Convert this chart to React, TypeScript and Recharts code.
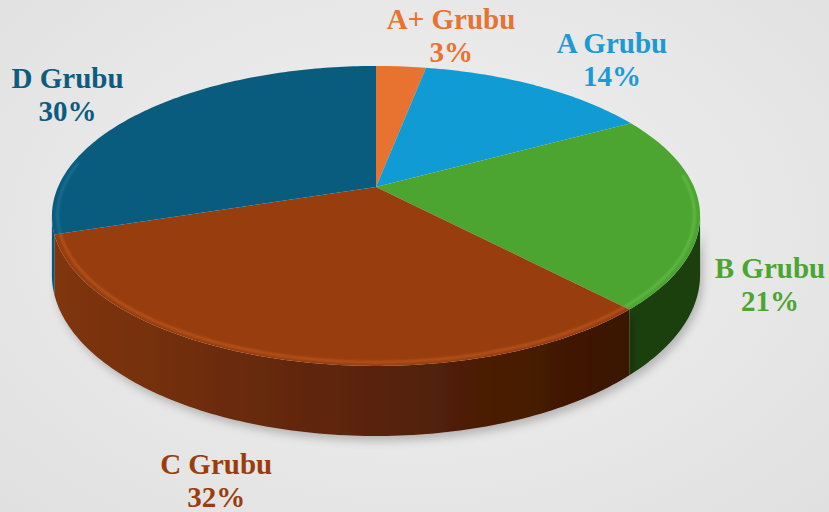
import { PieChart, Pie } from 'recharts';

const groups = ['A+ Grubu', 'A Grubu', 'B Grubu', 'C Grubu', 'D Grubu'];
const shares = [3, 14, 21, 32, 30];

const TOP_COLORS = ['#e87230', '#109bd4', '#4ba530', '#983d0e', '#0a5c7e'];
const TEXT_COLORS = ['#e87230', '#1a9bd6', '#4ba530', '#9a3d0e', '#0b5c80'];
const WALL_LEFT = ['#b0531f', '#0b6f9a', '#25521a', '#80350f', '#0a5476'];
const WALL_RIGHT = ['#8a3f16', '#085878', '#1c3f10', '#391503', '#094c6a'];
const BEVEL = ['#ff9a5a', '#5cc4f0', '#7ccd5a', '#d8692e', '#2a84aa'];
// label nudges (px) relative to the projected point just outside the rim
const LABEL_NUDGE = [
  [44, -8],
  [34, -8],
  [-31, 60],
  [-24, 47],
  [-17, -3],
];

const data = groups.map((name, i) => ({ name, value: shares[i] }));

// fake 3d: tilt, perspective and thickness as fractions of the radius
const TILT = 0.454;
const PERSP = 0.193;
const DEPTH = 0.178;
const FRONT_LO = -180 + (Math.asin(PERSP) * 180) / Math.PI;
const FRONT_HI = -(Math.asin(PERSP) * 180) / Math.PI;

const FONT = 'Liberation Serif, Times New Roman, serif';

function project(cx: number, cy: number, R: number, deg: number, r: number, drop: number) {
  const rad = (deg * Math.PI) / 180;
  const X = r * Math.cos(rad);
  const Z = r * Math.sin(rad);
  const den = 1 + PERSP * Z;
  return [cx + (R * X) / den, cy - (R * TILT * Z) / den + (R * DEPTH * drop) / den];
}

function arc(cx: number, cy: number, R: number, a0: number, a1: number, r: number, drop: number) {
  const n = Math.max(2, Math.ceil(Math.abs(a1 - a0)));
  const pts: number[][] = [];
  for (let i = 0; i <= n; i++) pts.push(project(cx, cy, R, a0 + ((a1 - a0) * i) / n, r, drop));
  return pts;
}

const toPath = (pts: number[][]) => pts.map((p, i) => `${i ? 'L' : 'M'}${p[0].toFixed(2)},${p[1].toFixed(2)}`).join(' ');

function Slice3D(props: any) {
  const { cx, cy, outerRadius: R, startAngle, endAngle, index } = props;
  const top = [[cx, cy], ...arc(cx, cy, R, startAngle, endAngle, 1, 0)];
  const lo = Math.max(Math.min(startAngle, endAngle), FRONT_LO);
  const hi = Math.min(Math.max(startAngle, endAngle), FRONT_HI);
  let wall = null;
  let bevel = null;
  if (hi > lo) {
    const upper = arc(cx, cy, R, lo, hi, 1, 0);
    const lower = arc(cx, cy, R, hi, lo, 1, 1);
    wall = (
      <path
        d={toPath([...upper, ...lower]) + ' Z'}
        fill={`url(#wall${index})`}
        filter={`url(#shadow${index})`}
      />
    );
  }
  // bevel highlight only on the lower (front) half of the rim
  const blo = Math.max(Math.min(startAngle, endAngle), -190);
  const bhi = Math.min(Math.max(startAngle, endAngle), 5);
  if (bhi > blo) {
    bevel = (
      <path
        d={toPath(arc(cx, cy, R, blo, bhi, 0.983, 0))}
        fill="none"
        stroke={BEVEL[index]}
        strokeWidth={2.5}
        strokeOpacity={0.5}
        filter={`url(#blur${index})`}
      />
    );
  }
  return (
    <g>
      <defs>
        <linearGradient id={`wall${index}`} gradientUnits="userSpaceOnUse" x1={cx - R} y1={0} x2={cx + R * 0.8} y2={0}>
          <stop offset="0%" stopColor={WALL_LEFT[index]} />
          <stop offset="100%" stopColor={WALL_RIGHT[index]} />
        </linearGradient>
        <filter id={`shadow${index}`} x="-20%" y="-20%" width="140%" height="160%">
          <feDropShadow dx="3" dy="5" stdDeviation="4" floodColor="#000" floodOpacity="0.22" />
        </filter>
        <filter id={`blur${index}`}>
          <feGaussianBlur stdDeviation="1.3" />
        </filter>
      </defs>
      {wall}
      <path d={toPath(top) + ' Z'} fill={TOP_COLORS[index]} />
      {bevel}
    </g>
  );
}

function renderLabel(props: any) {
  const { cx, cy, outerRadius, midAngle, index, percent, name } = props;
  const [x0, y0] = project(cx, cy, outerRadius, midAngle, 1.3, 0);
  const x = x0 + LABEL_NUDGE[index][0];
  const y = y0 + LABEL_NUDGE[index][1];
  return (
    <text
      x={x}
      y={y}
      textAnchor="middle"
      fill={TEXT_COLORS[index]}
      fontFamily={FONT}
      fontWeight="bold"
      fontSize={29}
      style={{ fontFamily: FONT, fontWeight: 700 }}
    >
      <tspan x={x}>{name}</tspan>
      <tspan x={x} dy={33}>{`${Math.round(percent * 100)}%`}</tspan>
    </text>
  );
}

export default function App() {
  return (
    <div
      style={{
        position: 'absolute',
        left: 0,
        top: 0,
        width: 829,
        height: 512,
        fontFamily: FONT,
        background: 'radial-gradient(ellipse at 50% 45%, #efefef 0%, #e8e8e8 55%, #e0e0e0 100%)',
      }}
    >
      <PieChart width={829} height={512} margin={{ top: 0, right: 0, bottom: 0, left: 0 }}>
        <Pie
          data={data}
          dataKey="value"
          nameKey="name"
          cx={376}
          cy={187}
          outerRadius={318}
          startAngle={90}
          endAngle={-270}
          stroke="none"
          shape={Slice3D}
          inactiveShape={Slice3D}
          activeShape={Slice3D}
          label={renderLabel}
          labelLine={false}
          isAnimationActive={false}
        />
      </PieChart>
    </div>
  );
}
